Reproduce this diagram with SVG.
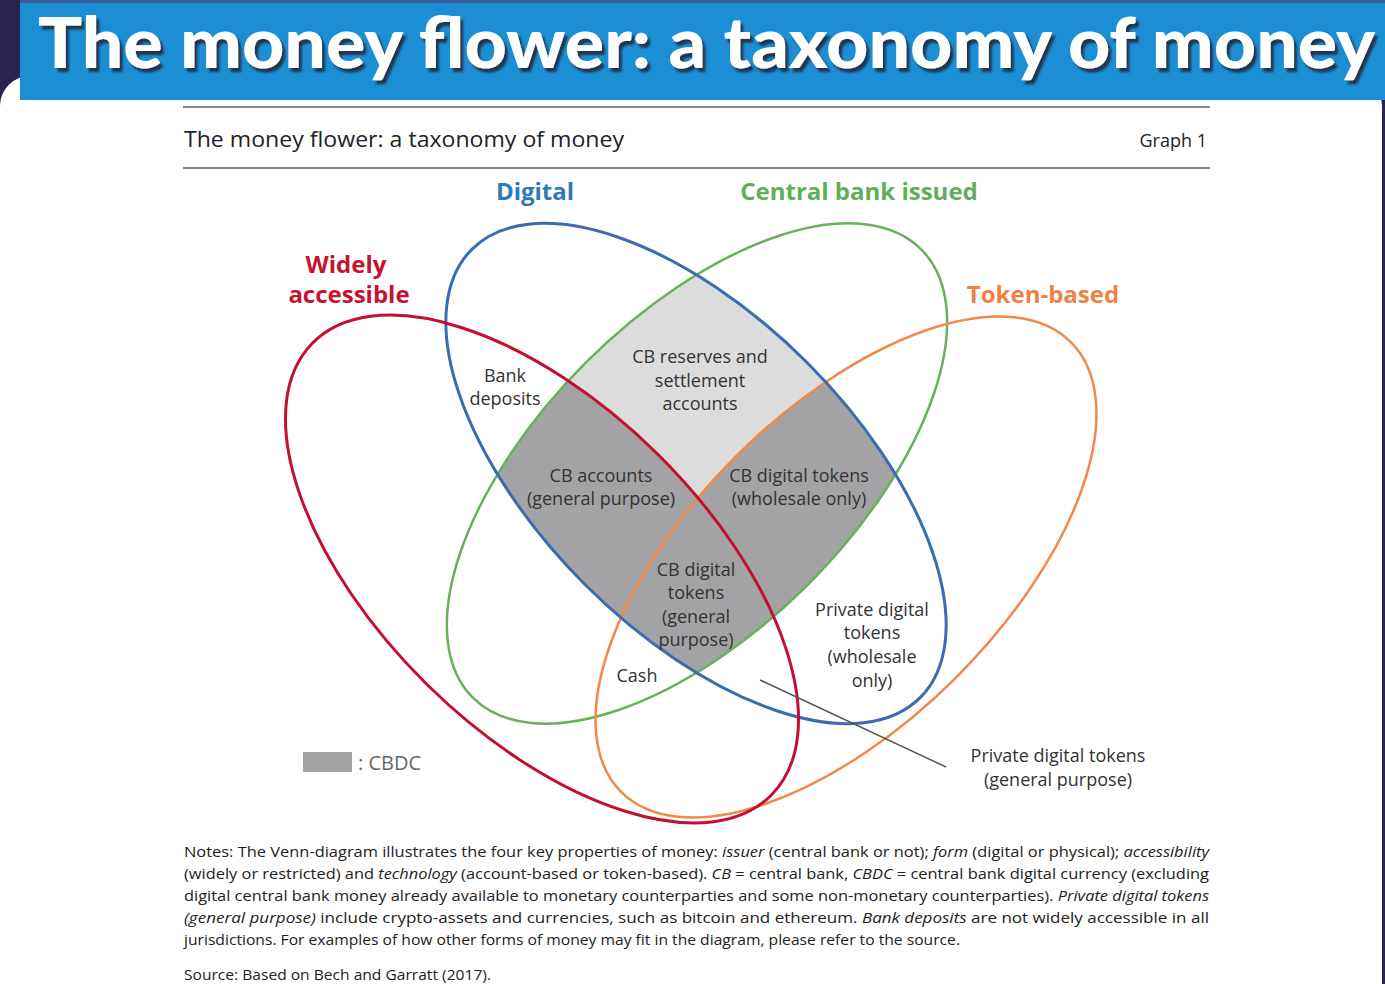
<svg xmlns="http://www.w3.org/2000/svg" width="1385" height="984" viewBox="0 0 1385 984">
<style>
.t{font-family:"Open Sans","Liberation Sans",sans-serif;font-size:18px;fill:#333;text-anchor:middle}
.lab{font-family:"Open Sans","Liberation Sans",sans-serif;font-size:24px;font-weight:700}
.notes{font-family:"Open Sans","Liberation Sans",sans-serif;font-size:14.5px;fill:#222}
.it{font-style:italic}
.set{fill:none}
</style>
<defs>
<clipPath id="cBlue"><ellipse cx="696" cy="473.5" rx="317" ry="157" transform="rotate(45 696 473.5)"/></clipPath>
<clipPath id="cGreen"><ellipse cx="697" cy="473.5" rx="317" ry="157" transform="rotate(-45 697 473.5)"/></clipPath>
<filter id="shadow" x="-5%" y="-20%" width="110%" height="150%">
<feDropShadow dx="3" dy="4" stdDeviation="0.8" flood-color="#23344f" flood-opacity="1"/>
</filter>
</defs>
<rect x="0" y="0" width="1385" height="984" fill="#2a2350"/>
<rect x="0" y="76" width="1382" height="940" rx="30" fill="#ffffff"/>
<rect x="20" y="0" width="1365" height="100" fill="#1b8ed4"/>
<rect x="20" y="0" width="1365" height="3" fill="#3a5f9c"/>
<text x="38" y="68" font-family="Lato,'Liberation Sans',sans-serif" font-weight="900" font-size="70" fill="#ffffff" filter="url(#shadow)" textLength="1337" lengthAdjust="spacingAndGlyphs">The money flower: a taxonomy of money</text>

<line x1="183" y1="107" x2="1210" y2="107" stroke="#888" stroke-width="2"/>
<line x1="183" y1="168" x2="1210" y2="168" stroke="#888" stroke-width="2"/>
<text x="184" y="147" font-family="'Open Sans','Liberation Sans',sans-serif" font-size="21" fill="#222" textLength="440" lengthAdjust="spacingAndGlyphs">The money flower: a taxonomy of money</text>
<text x="1207" y="147" font-family="'Open Sans','Liberation Sans',sans-serif" font-size="18" fill="#222" text-anchor="end">Graph 1</text>

<g id="cbdc-shading">
<g clip-path="url(#cBlue)"><g clip-path="url(#cGreen)">
<rect x="400" y="200" width="600" height="560" fill="#dcdcdc"/>
<ellipse cx="542" cy="569" rx="322" ry="163" transform="rotate(44.5 542 569)" fill="#a3a3a5"/>
<ellipse cx="846" cy="567" rx="318" ry="156" transform="rotate(-45 846 567)" fill="#a3a3a5"/>
</g></g>
</g>

<g id="set-central-bank">
<ellipse class="set" cx="697" cy="473.5" rx="317" ry="157" transform="rotate(-45 697 473.5)" stroke="#66b25a" stroke-width="2.5"/>
<text class="lab" x="859" y="200" text-anchor="middle" fill="#5fae5a">Central bank issued</text>
</g>
<g id="set-token">
<ellipse class="set" cx="846" cy="567" rx="318" ry="156" transform="rotate(-45 846 567)" stroke="#f0894a" stroke-width="2.5"/>
<text class="lab" x="1043" y="303" text-anchor="middle" fill="#ef8146">Token-based</text>
</g>
<g id="set-digital">
<ellipse class="set" cx="696" cy="473.5" rx="317" ry="157" transform="rotate(45 696 473.5)" stroke="#3b6cb0" stroke-width="3"/>
<text class="lab" x="535" y="200" text-anchor="middle" fill="#2a7bb8">Digital</text>
</g>
<g id="set-widely">
<ellipse class="set" cx="542" cy="569" rx="322" ry="163" transform="rotate(44.5 542 569)" stroke="#c50f30" stroke-width="3"/>
<text class="lab" x="346" y="273" text-anchor="middle" fill="#c4122f">Widely</text>
<text class="lab" x="349" y="303" text-anchor="middle" fill="#c4122f">accessible</text>
</g>

<g id="connectors">
<line x1="760" y1="680" x2="946" y2="767" stroke="#555" stroke-width="1.5"/>
</g>

<g id="bank-deposits"><text class="t" x="505" y="382">Bank</text><text class="t" x="505" y="405">deposits</text></g>
<g id="cb-reserves"><text class="t" x="700" y="363">CB reserves and</text><text class="t" x="700" y="387">settlement</text><text class="t" x="700" y="410">accounts</text></g>
<g id="cb-accounts"><text class="t" x="601" y="482">CB accounts</text><text class="t" x="601" y="505">(general purpose)</text></g>
<g id="cb-tokens-wholesale"><text class="t" x="799" y="482">CB digital tokens</text><text class="t" x="799" y="505">(wholesale only)</text></g>
<g id="cb-tokens-general"><text class="t" x="696" y="576">CB digital</text><text class="t" x="696" y="599">tokens</text><text class="t" x="696" y="623">(general</text><text class="t" x="696" y="646">purpose)</text></g>
<g id="private-wholesale"><text class="t" x="872" y="616">Private digital</text><text class="t" x="872" y="639">tokens</text><text class="t" x="872" y="663">(wholesale</text><text class="t" x="872" y="687">only)</text></g>
<g id="cash"><text class="t" x="637" y="682">Cash</text></g>
<g id="private-general"><text class="t" x="1058" y="762">Private digital tokens</text><text class="t" x="1058" y="786">(general purpose)</text></g>

<g id="legend">
<rect x="303" y="752" width="49" height="20" fill="#a3a3a5"/>
<text x="358" y="770" font-family="'Open Sans','Liberation Sans',sans-serif" font-size="20" fill="#666">: CBDC</text>
</g>

<g id="notes" class="notes">
<text x="184" y="857" textLength="1025" lengthAdjust="spacingAndGlyphs">Notes: The Venn-diagram illustrates the four key properties of money: <tspan class="it">issuer</tspan> (central bank or not); <tspan class="it">form</tspan> (digital or physical); <tspan class="it">accessibility</tspan></text>
<text x="184" y="879" textLength="1025" lengthAdjust="spacingAndGlyphs">(widely or restricted) and <tspan class="it">technology</tspan> (account-based or token-based). <tspan class="it">CB</tspan> = central bank, <tspan class="it">CBDC</tspan> = central bank digital currency (excluding</text>
<text x="184" y="901" textLength="1025" lengthAdjust="spacingAndGlyphs">digital central bank money already available to monetary counterparties and some non-monetary counterparties). <tspan class="it">Private digital tokens</tspan></text>
<text x="184" y="923" textLength="1025" lengthAdjust="spacingAndGlyphs"><tspan class="it">(general purpose)</tspan> include crypto-assets and currencies, such as bitcoin and ethereum. <tspan class="it">Bank deposits</tspan> are not widely accessible in all</text>
<text x="184" y="945" textLength="776" lengthAdjust="spacingAndGlyphs">jurisdictions. For examples of how other forms of money may fit in the diagram, please refer to the source.</text>
<text x="184" y="980" textLength="307" lengthAdjust="spacingAndGlyphs">Source: Based on Bech and Garratt (2017).</text>
</g>
</svg>
